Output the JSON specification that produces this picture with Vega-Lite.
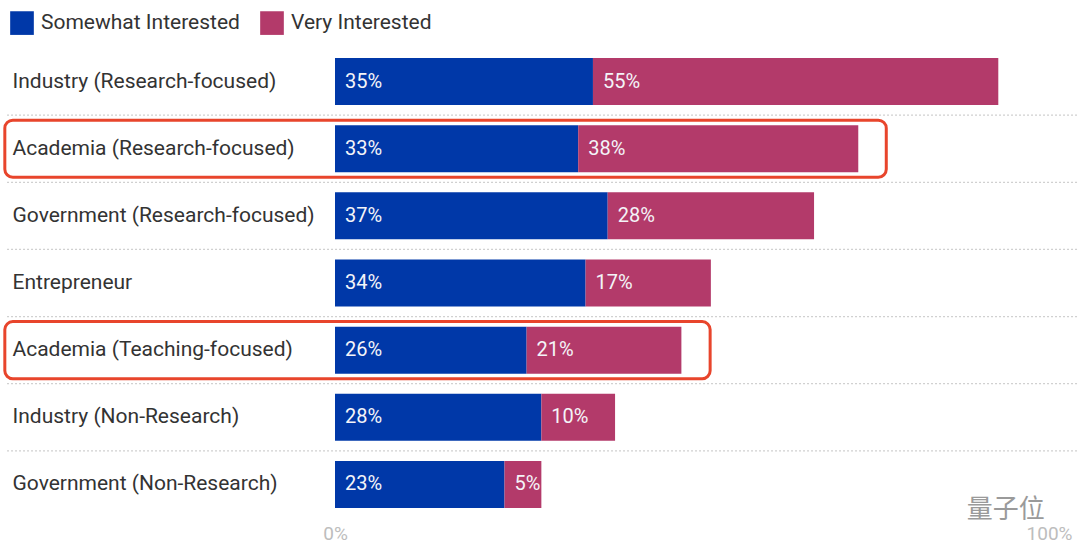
{
  "$schema": "https://vega.github.io/schema/vega-lite/v6.json",
  "width": 737,
  "height": 470,
  "autosize": {"type": "none"},
  "padding": {"left": 335, "top": 48, "right": 8, "bottom": 39},
  "background": "white",
  "datasets": {
    "interest": [
      {"career": "Industry (Research-focused)", "level": "Somewhat Interested", "lvl": 1, "pct": 35},
      {"career": "Industry (Research-focused)", "level": "Very Interested", "lvl": 2, "pct": 55},
      {"career": "Academia (Research-focused)", "level": "Somewhat Interested", "lvl": 1, "pct": 33},
      {"career": "Academia (Research-focused)", "level": "Very Interested", "lvl": 2, "pct": 38},
      {"career": "Government (Research-focused)", "level": "Somewhat Interested", "lvl": 1, "pct": 37},
      {"career": "Government (Research-focused)", "level": "Very Interested", "lvl": 2, "pct": 28},
      {"career": "Entrepreneur", "level": "Somewhat Interested", "lvl": 1, "pct": 34},
      {"career": "Entrepreneur", "level": "Very Interested", "lvl": 2, "pct": 17},
      {"career": "Academia (Teaching-focused)", "level": "Somewhat Interested", "lvl": 1, "pct": 26},
      {"career": "Academia (Teaching-focused)", "level": "Very Interested", "lvl": 2, "pct": 21},
      {"career": "Industry (Non-Research)", "level": "Somewhat Interested", "lvl": 1, "pct": 28},
      {"career": "Industry (Non-Research)", "level": "Very Interested", "lvl": 2, "pct": 10},
      {"career": "Government (Non-Research)", "level": "Somewhat Interested", "lvl": 1, "pct": 23},
      {"career": "Government (Non-Research)", "level": "Very Interested", "lvl": 2, "pct": 5}
    ],
    "separators": [
      {"career": "Academia (Research-focused)"},
      {"career": "Government (Research-focused)"},
      {"career": "Entrepreneur"},
      {"career": "Academia (Teaching-focused)"},
      {"career": "Industry (Non-Research)"},
      {"career": "Government (Non-Research)"}
    ],
    "highlights": [
      {"career": "Academia (Research-focused)", "from": -44.8, "to": 74.8},
      {"career": "Academia (Teaching-focused)", "from": -44.8, "to": 50.9}
    ],
    "watermark": [
      {"career": "Government (Non-Research)", "pos": 91, "label": "量子位"}
    ]
  },
  "encoding": {
    "y": {
      "field": "career",
      "type": "nominal",
      "sort": [
        "Industry (Research-focused)",
        "Academia (Research-focused)",
        "Government (Research-focused)",
        "Entrepreneur",
        "Academia (Teaching-focused)",
        "Industry (Non-Research)",
        "Government (Non-Research)"
      ],
      "scale": {"paddingInner": 0, "paddingOuter": 0},
      "axis": {
        "title": null,
        "ticks": false,
        "domain": false,
        "labelAlign": "left",
        "labelPadding": 323,
        "labelLimit": 400,
        "labelFontSize": 21,
        "labelColor": "#333333"
      }
    }
  },
  "layer": [
    {
      "data": {"name": "separators"},
      "mark": {"type": "rule", "color": "#d0d0d0", "strokeDash": [2, 2], "strokeWidth": 1.2},
      "encoding": {
        "y": {"field": "career", "type": "nominal", "bandPosition": 0},
        "x": {"datum": -44.5},
        "x2": {"datum": 100.7}
      }
    },
    {
      "data": {"name": "interest"},
      "transform": [
        {"stack": "pct", "groupby": ["career"], "sort": [{"field": "lvl"}], "as": ["x0", "x1"]}
      ],
      "mark": {"type": "bar", "height": {"band": 0.7}},
      "encoding": {
        "x": {
          "field": "x0",
          "type": "quantitative",
          "scale": {"domain": [0, 100], "nice": false},
          "axis": {
            "title": null,
            "values": [0, 100],
            "labelExpr": "datum.value + '%'",
            "labelAlign": {"expr": "datum.value == 100 ? 'right' : 'center'"},
            "grid": false,
            "ticks": false,
            "domain": false,
            "labelPadding": 6,
            "labelFontSize": 19,
            "labelColor": "#bdbdbd"
          }
        },
        "x2": {"field": "x1"},
        "color": {
          "field": "level",
          "type": "nominal",
          "scale": {
            "domain": ["Somewhat Interested", "Very Interested"],
            "range": ["#0038a8", "#b33a6a"]
          },
          "legend": {
            "title": null,
            "orient": "none",
            "direction": "horizontal",
            "legendX": -325,
            "legendY": -37,
            "symbolType": "square",
            "symbolSize": 560,
            "symbolStrokeWidth": 0,
            "symbolOpacity": 1,
            "labelFontSize": 21,
            "labelLimit": 400,
            "labelColor": "#333333",
            "labelOffset": 7,
            "columnPadding": 20
          }
        }
      }
    },
    {
      "data": {"name": "interest"},
      "transform": [
        {"stack": "pct", "groupby": ["career"], "sort": [{"field": "lvl"}], "as": ["x0", "x1"]},
        {"calculate": "datum.pct + '%'", "as": "pct_label"}
      ],
      "mark": {"type": "text", "align": "left", "baseline": "middle", "dx": 10, "fontSize": 20, "color": "#f4f4f8"},
      "encoding": {
        "x": {"field": "x0", "type": "quantitative"},
        "text": {"field": "pct_label"}
      }
    },
    {
      "data": {"name": "highlights"},
      "mark": {
        "type": "bar",
        "height": {"band": 0.85},
        "fill": null,
        "fillOpacity": 0,
        "stroke": "#e8452c",
        "strokeWidth": 3,
        "cornerRadius": 8,
        "clip": false
      },
      "encoding": {
        "x": {"field": "from", "type": "quantitative"},
        "x2": {"field": "to"}
      }
    },
    {
      "data": {"name": "watermark"},
      "mark": {"type": "text", "font": "Noto Sans CJK SC", "fontSize": 26, "color": "#9a9a9a", "dy": 26},
      "encoding": {
        "x": {"field": "pos", "type": "quantitative"},
        "text": {"field": "label"}
      }
    }
  ],
  "config": {
    "font": "Roboto",
    "view": {"stroke": null}
  }
}
